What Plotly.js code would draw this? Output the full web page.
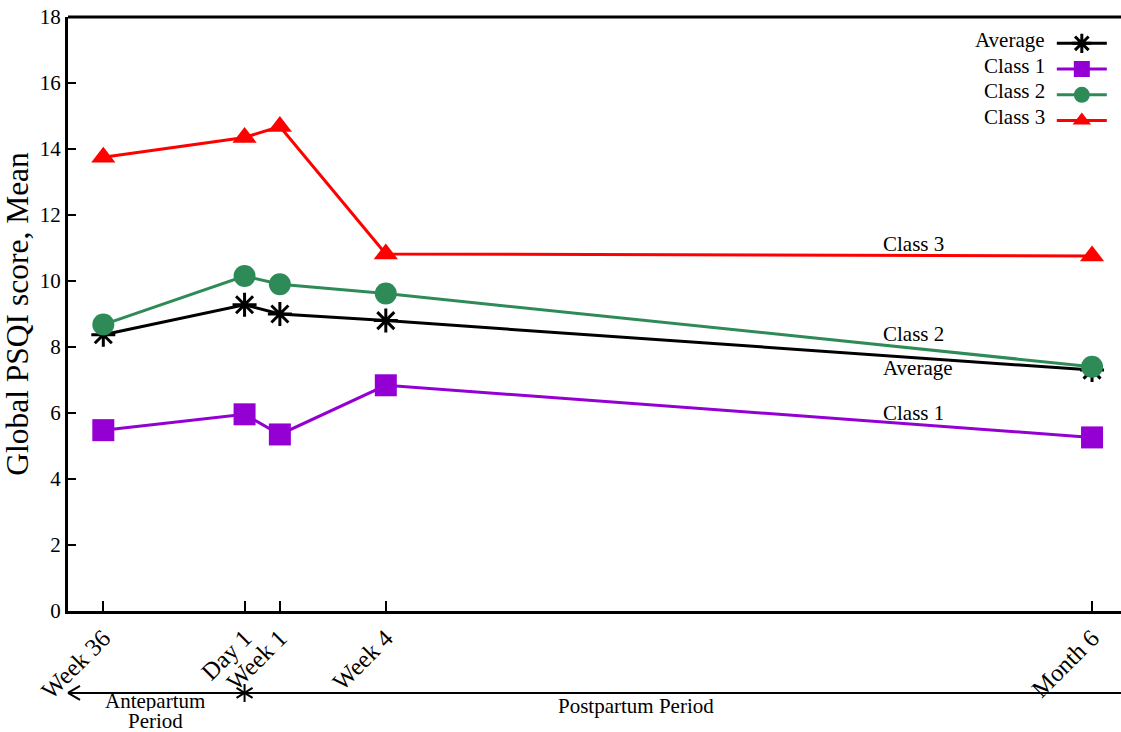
<!DOCTYPE html>
<html>
<head>
<meta charset="utf-8">
<script src="https://cdn.plot.ly/plotly-3.0.1.min.js"></script>
<style>html,body{margin:0;padding:0;background:#fff;}#chart{width:1121px;height:732px;}</style>
</head>
<body>
<div id="chart"></div>
<script>
// Time points (weeks relative to delivery)
const timeWeeks = [-4, 0, 1, 4, 24];
const tickLabels = ["Week 36", "Day 1", "Week 1", "Week 4", "Month 6"];
const seriesNames = ["Average", "Class 1", "Class 2", "Class 3"];
const averageVals = [8.37, 9.28, 9.0, 8.8, 7.3];
const class1Vals = [5.48, 5.96, 5.35, 6.84, 5.26];
const class2Vals = [8.68, 10.15, 9.9, 9.62, 7.4];
const class3Vals = [13.75, 14.35, 14.68, 10.82, 10.76];

const FONT = "Liberation Serif, Times New Roman, serif";
const xRange = [-5, 24.82];

const styles = [
  {color: "#000000", symbol: "asterisk-open", size: 20},
  {color: "#9400D3", symbol: "square", size: 22},
  {color: "#2E8B57", symbol: "circle", size: 22},
  {color: "#FF0000", symbol: "triangle-up", size: 21}
];
const allVals = [averageVals, class1Vals, class2Vals, class3Vals];

const traces = allVals.map((vals, i) => ({
  type: "scatter",
  mode: "lines+markers",
  x: timeWeeks,
  y: vals,
  name: "",
  hovertemplate: seriesNames[i] + ": %{y}<extra></extra>",
  line: {color: styles[i].color, width: 3},
  marker: {
    symbol: styles[i].symbol,
    size: styles[i].size,
    color: styles[i].color,
    line: {color: styles[i].color, width: styles[i].symbol === "asterisk-open" ? 3 : 0}
  }
}));

const toPaperX = v => (v - xRange[0]) / (xRange[1] - xRange[0]);
const day1X = toPaperX(timeWeeks[1]);
const arrowY = -0.138;

const shapes = [
  // top border
  {type: "line", xref: "paper", yref: "paper", x0: 0, x1: 1, y0: 1, y1: 1, line: {color: "#000", width: 3}},
  // period timeline
  {type: "line", xref: "paper", yref: "paper", x0: 0, x1: 1, y0: arrowY, y1: arrowY, line: {color: "#000", width: 2}},
  // left arrowhead
  {type: "line", xref: "paper", yref: "paper", xsizemode: "pixel", ysizemode: "pixel", xanchor: 0, yanchor: arrowY, x0: 0, x1: 12, y0: 0, y1: 7, line: {color: "#000", width: 2}},
  {type: "line", xref: "paper", yref: "paper", xsizemode: "pixel", ysizemode: "pixel", xanchor: 0, yanchor: arrowY, x0: 0, x1: 12, y0: 0, y1: -7, line: {color: "#000", width: 2}},
  // asterisk marking delivery
  {type: "line", xref: "paper", yref: "paper", xsizemode: "pixel", ysizemode: "pixel", xanchor: day1X, yanchor: arrowY, x0: 0, x1: 0, y0: -9, y1: 9, line: {color: "#000", width: 2}},
  {type: "line", xref: "paper", yref: "paper", xsizemode: "pixel", ysizemode: "pixel", xanchor: day1X, yanchor: arrowY, x0: -8, x1: 8, y0: -5, y1: 5, line: {color: "#000", width: 2}},
  {type: "line", xref: "paper", yref: "paper", xsizemode: "pixel", ysizemode: "pixel", xanchor: day1X, yanchor: arrowY, x0: -8, x1: 8, y0: 5, y1: -5, line: {color: "#000", width: 2}}
];

const lab = (text, x, y, xanchor) => ({
  text: text, xref: "paper", yref: "paper", x: x, y: y, xanchor: xanchor, yanchor: "middle",
  showarrow: false, font: {family: FONT, size: 21, color: "#000"}
});

const annotations = [
  // legend labels (to the left of legend symbols)
  lab(seriesNames[0], 0.9298, 0.9613, "right"),
  lab(seriesNames[1], 0.9298, 0.9178, "right"),
  lab(seriesNames[2], 0.9298, 0.8748, "right"),
  lab(seriesNames[3], 0.9298, 0.8318, "right"),
  // inline labels
  lab(seriesNames[3], 0.772, 0.618, "left"),
  lab(seriesNames[2], 0.772, 0.466, "left"),
  lab(seriesNames[0], 0.772, 0.409, "left"),
  lab(seriesNames[1], 0.772, 0.333, "left"),
  // period labels
  Object.assign(lab("Antepartum", 0.083, -0.1507, "center"), {height: 20, borderpad: 0}),
  Object.assign(lab("Period", 0.083, -0.1844, "center"), {height: 20, borderpad: 0}),
  lab("Postpartum Period", 0.539, -0.160, "center")
];

const layout = {
  width: 1121, height: 732,
  margin: {l: 68, r: 0, t: 17, b: 121},
  paper_bgcolor: "#fff", plot_bgcolor: "#fff",
  font: {family: FONT, color: "#000", size: 21},
  showlegend: true,
  legend: {
    x: 0.9343, y: 0.9858, xanchor: "left", yanchor: "top",
    bgcolor: "rgba(0,0,0,0)", borderwidth: 0,
    font: {family: FONT, size: 17.5},
    itemwidth: 50, tracegroupgap: 0
  },
  xaxis: {
    range: xRange,
    tickmode: "array", tickvals: timeWeeks, ticktext: tickLabels,
    tickangle: -45, ticks: "inside", ticklen: 10, tickwidth: 2, tickcolor: "#000",
    showline: true, linewidth: 3, linecolor: "#000",
    showgrid: false, zeroline: false,
    tickfont: {family: FONT, size: 24.5, color: "#000"}
  },
  yaxis: {
    range: [0, 18], dtick: 2, tick0: 0,
    ticks: "inside", ticklen: 8, tickwidth: 2, tickcolor: "#000",
    showline: true, linewidth: 3, linecolor: "#000",
    showgrid: false, zeroline: false,
    tickfont: {family: FONT, size: 21, color: "#000"},
    title: {text: "Global PSQI score, Mean", font: {family: FONT, size: 31.5, color: "#000"}, standoff: 6}
  },
  shapes: shapes,
  annotations: annotations
};

Plotly.newPlot("chart", traces, layout, {displayModeBar: false, staticPlot: true});
</script>
</body>
</html>
